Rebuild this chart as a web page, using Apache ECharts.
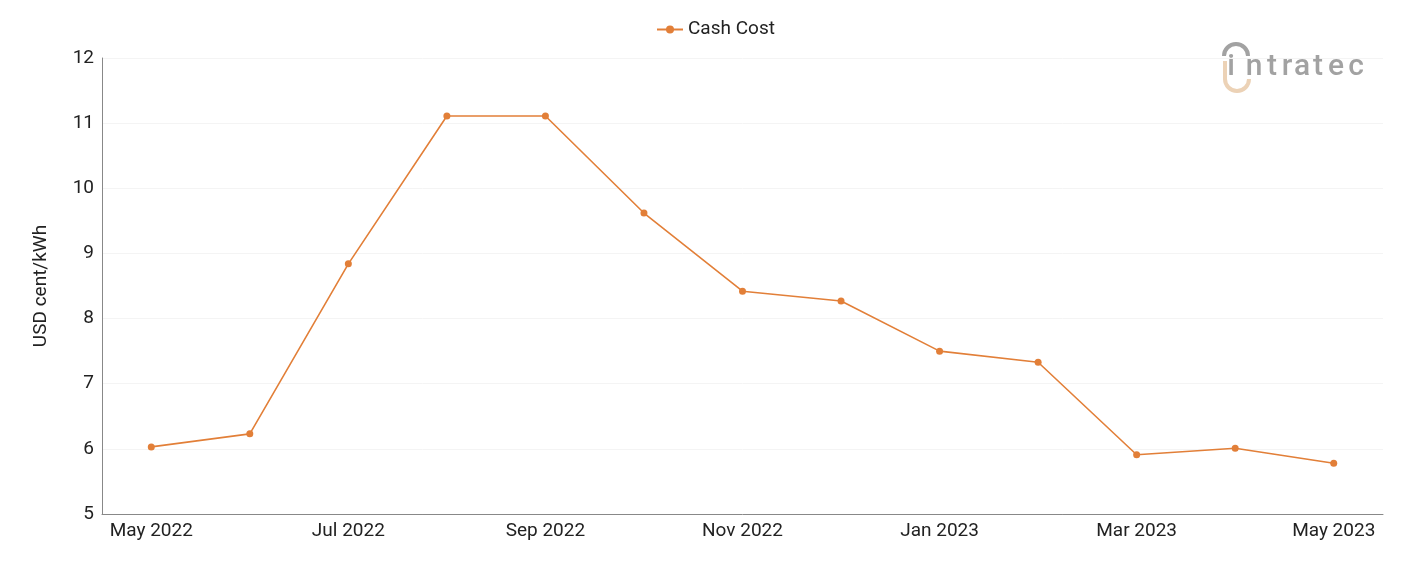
<!DOCTYPE html>
<html>
<head>
<meta charset="utf-8">
<script src="https://cdn.jsdelivr.net/npm/echarts@6/dist/echarts.min.js"></script>
<style>
  html, body { margin: 0; padding: 0; background: #fff; }
  #chart { width: 1401px; height: 561px; }
</style>
</head>
<body>
<div id="chart"></div>
<script>
var months = ['May 2022', 'Jun 2022', 'Jul 2022', 'Aug 2022', 'Sep 2022', 'Oct 2022', 'Nov 2022',
              'Dec 2022', 'Jan 2023', 'Feb 2023', 'Mar 2023', 'Apr 2023', 'May 2023'];
var cashCost = [6.03, 6.23, 8.84, 11.11, 11.11, 9.62, 8.42, 8.27, 7.50, 7.33, 5.91, 6.01, 5.78];

var myChart = echarts.init(document.getElementById('chart'));

// watermark logo: letters placed one by one for the wide spacing
var logoLetters = ['i', 'n', 't', 'r', 'a', 't', 'e', 'c'];
var logoX = [1231, 1254, 1272, 1287, 1302, 1318, 1336, 1356];
var logo = logoLetters.map(function (ch, i) {
    return {
        type: 'text', z: 10,
        x: logoX[i], y: 67,
        style: {
            text: ch,
            align: 'center', verticalAlign: 'middle',
            fontSize: 30, fontWeight: 500, fontFamily: 'Roboto', fill: '#a2a2a2'
        }
    };
});
logo.push(
    {
        type: 'arc', shape: { cx: 1236, cy: 56, r: 12, startAngle: Math.PI, endAngle: 2 * Math.PI },
        style: { stroke: '#a2a2a2', lineWidth: 4, fill: null }
    },
    {
        type: 'arc', shape: { cx: 1237, cy: 79, r: 12, startAngle: 0, endAngle: Math.PI },
        style: { stroke: '#ecd2b6', lineWidth: 4, fill: null }
    },
    {
        type: 'line', shape: { x1: 1225, y1: 61, x2: 1225, y2: 79 },
        style: { stroke: '#ecd2b6', lineWidth: 4 }
    }
);

var option = {
    animation: false,
    textStyle: { fontFamily: 'Roboto' },
    legend: {
        top: 15,
        left: 651,
        itemWidth: 26,
        itemHeight: 10,
        textStyle: { fontSize: 19, color: '#222' },
        data: ['Cash Cost']
    },
    grid: { left: 102, right: 18, top: 58, bottom: 47 },
    graphic: logo,
    xAxis: {
        type: 'category',
        data: months,
        boundaryGap: true,
        axisLine: { lineStyle: { color: '#888' } },
        axisTick: { show: false },
        axisLabel: { interval: 1, fontSize: 19, color: '#222', margin: 8 }
    },
    yAxis: {
        type: 'value',
        min: 5,
        max: 12,
        interval: 1,
        name: 'USD cent/kWh',
        nameLocation: 'middle',
        nameGap: 51,
        nameTextStyle: { fontSize: 19, color: '#222' },
        axisLine: { show: true, lineStyle: { color: '#888' } },
        axisLabel: { fontSize: 19, color: '#222', margin: 8 },
        splitLine: { lineStyle: { color: '#f4f4f4' } }
    },
    series: [{
        name: 'Cash Cost',
        type: 'line',
        data: cashCost,
        symbol: 'circle',
        symbolSize: 7,
        itemStyle: { color: '#e27f38' },
        lineStyle: { color: '#e27f38', width: 1.6 }
    }]
};

myChart.setOption(option);
</script>
</body>
</html>
